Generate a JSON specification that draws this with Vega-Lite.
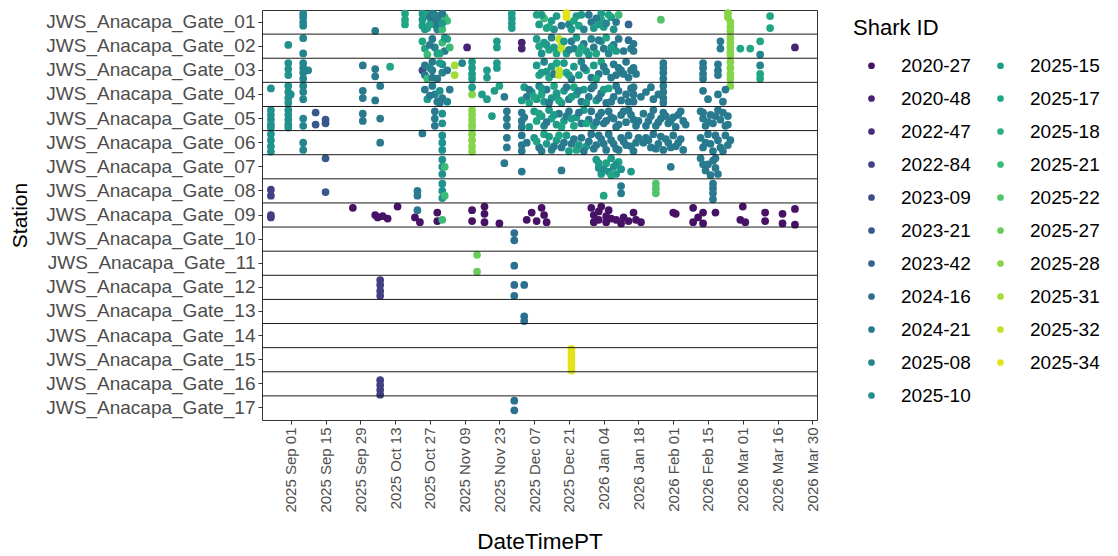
{
"$schema": "https://vega.github.io/schema/vega-lite/v6.json",
"width": 555, "height": 410,
"autosize": {"type": "none"},
"padding": {"left": 262, "top": 10, "right": 301, "bottom": 136},
"config": {"font": "Liberation Sans", "view": {"stroke": "#333333", "strokeWidth": 1}},
"layer": [
{"data": {"values": [
{"st":"JWS_Anacapa_Gate_01","dt":"2025-09-06","id":"2025-08","j":-0.35},
{"st":"JWS_Anacapa_Gate_01","dt":"2025-09-06","id":"2025-08","j":-0.2},
{"st":"JWS_Anacapa_Gate_01","dt":"2025-09-06","id":"2025-08","j":0},
{"st":"JWS_Anacapa_Gate_01","dt":"2025-09-06","id":"2025-08","j":0.15},
{"st":"JWS_Anacapa_Gate_01","dt":"2025-10-05","id":"2024-21","j":0.37},
{"st":"JWS_Anacapa_Gate_01","dt":"2025-10-17","id":"2025-17","j":-0.35},
{"st":"JWS_Anacapa_Gate_01","dt":"2025-10-17","id":"2025-17","j":-0.1},
{"st":"JWS_Anacapa_Gate_01","dt":"2025-10-17","id":"2025-17","j":0.1},
{"st":"JWS_Anacapa_Gate_01","dt":"2025-10-24","id":"2025-15","j":-0.35},
{"st":"JWS_Anacapa_Gate_01","dt":"2025-10-24","id":"2025-15","j":-0.1},
{"st":"JWS_Anacapa_Gate_01","dt":"2025-10-24","id":"2025-15","j":0.15},
{"st":"JWS_Anacapa_Gate_01","dt":"2025-10-26","id":"2025-17","j":-0.3},
{"st":"JWS_Anacapa_Gate_01","dt":"2025-10-26","id":"2025-17","j":0.25},
{"st":"JWS_Anacapa_Gate_01","dt":"2025-10-28","id":"2024-21","j":-0.35},
{"st":"JWS_Anacapa_Gate_01","dt":"2025-10-28","id":"2024-21","j":-0.1},
{"st":"JWS_Anacapa_Gate_01","dt":"2025-10-29","id":"2024-21","j":0.1},
{"st":"JWS_Anacapa_Gate_01","dt":"2025-10-30","id":"2025-08","j":0.3},
{"st":"JWS_Anacapa_Gate_01","dt":"2025-10-31","id":"2024-21","j":-0.25},
{"st":"JWS_Anacapa_Gate_01","dt":"2025-10-31","id":"2024-21","j":0.05},
{"st":"JWS_Anacapa_Gate_01","dt":"2025-11-01","id":"2025-21","j":0.3},
{"st":"JWS_Anacapa_Gate_01","dt":"2025-11-02","id":"2025-21","j":-0.2},
{"st":"JWS_Anacapa_Gate_01","dt":"2025-11-03","id":"2025-21","j":-0.05},
{"st":"JWS_Anacapa_Gate_01","dt":"2025-11-29","id":"2025-15","j":-0.35},
{"st":"JWS_Anacapa_Gate_01","dt":"2025-11-29","id":"2025-15","j":-0.15},
{"st":"JWS_Anacapa_Gate_01","dt":"2025-11-29","id":"2025-15","j":0.05},
{"st":"JWS_Anacapa_Gate_01","dt":"2025-11-29","id":"2025-15","j":0.25},
{"st":"JWS_Anacapa_Gate_01","dt":"2025-12-09","id":"2025-17","j":-0.3},
{"st":"JWS_Anacapa_Gate_01","dt":"2025-12-10","id":"2025-15","j":0.1},
{"st":"JWS_Anacapa_Gate_01","dt":"2025-12-12","id":"2025-21","j":-0.15},
{"st":"JWS_Anacapa_Gate_01","dt":"2025-12-13","id":"2025-17","j":0.25},
{"st":"JWS_Anacapa_Gate_01","dt":"2025-12-15","id":"2025-15","j":-0.05},
{"st":"JWS_Anacapa_Gate_01","dt":"2025-12-16","id":"2025-10","j":0.3},
{"st":"JWS_Anacapa_Gate_01","dt":"2025-12-21","id":"2025-34","j":-0.37},
{"st":"JWS_Anacapa_Gate_01","dt":"2025-12-21","id":"2025-34","j":-0.2},
{"st":"JWS_Anacapa_Gate_01","dt":"2025-12-22","id":"2025-08","j":0.1},
{"st":"JWS_Anacapa_Gate_01","dt":"2025-12-23","id":"2025-15","j":0.3},
{"st":"JWS_Anacapa_Gate_01","dt":"2025-12-25","id":"2025-15","j":-0.25},
{"st":"JWS_Anacapa_Gate_01","dt":"2025-12-26","id":"2025-17","j":0.15},
{"st":"JWS_Anacapa_Gate_01","dt":"2025-12-30","id":"2024-21","j":-0.3},
{"st":"JWS_Anacapa_Gate_01","dt":"2025-12-31","id":"2024-21","j":0},
{"st":"JWS_Anacapa_Gate_01","dt":"2026-01-01","id":"2025-15","j":0.25},
{"st":"JWS_Anacapa_Gate_01","dt":"2026-01-04","id":"2025-15","j":-0.35},
{"st":"JWS_Anacapa_Gate_01","dt":"2026-01-04","id":"2025-17","j":-0.1},
{"st":"JWS_Anacapa_Gate_01","dt":"2026-01-05","id":"2025-15","j":0.2},
{"st":"JWS_Anacapa_Gate_01","dt":"2026-01-06","id":"2025-08","j":0.05},
{"st":"JWS_Anacapa_Gate_01","dt":"2026-01-08","id":"2025-15","j":-0.2},
{"st":"JWS_Anacapa_Gate_01","dt":"2026-01-09","id":"2025-10","j":0.3},
{"st":"JWS_Anacapa_Gate_01","dt":"2026-01-11","id":"2025-21","j":-0.3},
{"st":"JWS_Anacapa_Gate_01","dt":"2026-01-15","id":"2023-42","j":0.1},
{"st":"JWS_Anacapa_Gate_01","dt":"2026-01-28","id":"2025-22","j":-0.1},
{"st":"JWS_Anacapa_Gate_01","dt":"2026-02-24","id":"2025-28","j":-0.37},
{"st":"JWS_Anacapa_Gate_01","dt":"2026-02-24","id":"2025-28","j":-0.2},
{"st":"JWS_Anacapa_Gate_01","dt":"2026-02-25","id":"2025-28","j":0},
{"st":"JWS_Anacapa_Gate_01","dt":"2026-02-25","id":"2025-28","j":0.2},
{"st":"JWS_Anacapa_Gate_01","dt":"2026-02-25","id":"2025-28","j":0.37},
{"st":"JWS_Anacapa_Gate_01","dt":"2026-03-13","id":"2025-17","j":-0.25},
{"st":"JWS_Anacapa_Gate_01","dt":"2026-03-13","id":"2025-17","j":0.25},
{"st":"JWS_Anacapa_Gate_01","dt":"2025-10-25","id":"2025-15","j":0.3},
{"st":"JWS_Anacapa_Gate_01","dt":"2025-10-27","id":"2024-21","j":-0.2},
{"st":"JWS_Anacapa_Gate_01","dt":"2025-10-27","id":"2025-17","j":0.1},
{"st":"JWS_Anacapa_Gate_01","dt":"2025-10-29","id":"2025-08","j":-0.3},
{"st":"JWS_Anacapa_Gate_01","dt":"2025-10-30","id":"2024-21","j":-0.05},
{"st":"JWS_Anacapa_Gate_01","dt":"2025-11-01","id":"2024-21","j":-0.35},
{"st":"JWS_Anacapa_Gate_01","dt":"2025-11-01","id":"2025-15","j":0.05},
{"st":"JWS_Anacapa_Gate_01","dt":"2025-12-11","id":"2025-15","j":-0.3},
{"st":"JWS_Anacapa_Gate_01","dt":"2025-12-14","id":"2025-17","j":0.2},
{"st":"JWS_Anacapa_Gate_01","dt":"2025-12-17","id":"2025-15","j":-0.25},
{"st":"JWS_Anacapa_Gate_01","dt":"2025-12-19","id":"2024-21","j":0.15},
{"st":"JWS_Anacapa_Gate_01","dt":"2025-12-24","id":"2025-17","j":-0.05},
{"st":"JWS_Anacapa_Gate_01","dt":"2025-12-27","id":"2025-15","j":-0.3},
{"st":"JWS_Anacapa_Gate_01","dt":"2025-12-28","id":"2025-08","j":0.3},
{"st":"JWS_Anacapa_Gate_01","dt":"2026-01-02","id":"2024-21","j":-0.15},
{"st":"JWS_Anacapa_Gate_01","dt":"2026-01-03","id":"2025-15","j":0.1},
{"st":"JWS_Anacapa_Gate_01","dt":"2026-01-07","id":"2025-17","j":-0.3},
{"st":"JWS_Anacapa_Gate_01","dt":"2026-01-10","id":"2024-21","j":0},

{"st":"JWS_Anacapa_Gate_02","dt":"2025-08-31","id":"2025-10","j":-0.05},
{"st":"JWS_Anacapa_Gate_02","dt":"2025-09-06","id":"2025-08","j":-0.33},
{"st":"JWS_Anacapa_Gate_02","dt":"2025-09-06","id":"2025-08","j":0.3},
{"st":"JWS_Anacapa_Gate_02","dt":"2025-10-24","id":"2025-17","j":-0.2},
{"st":"JWS_Anacapa_Gate_02","dt":"2025-10-25","id":"2025-17","j":0.1},
{"st":"JWS_Anacapa_Gate_02","dt":"2025-10-26","id":"2025-21","j":0.35},
{"st":"JWS_Anacapa_Gate_02","dt":"2025-10-28","id":"2024-21","j":-0.3},
{"st":"JWS_Anacapa_Gate_02","dt":"2025-10-29","id":"2025-08","j":0.05},
{"st":"JWS_Anacapa_Gate_02","dt":"2025-10-30","id":"2025-15","j":0.3},
{"st":"JWS_Anacapa_Gate_02","dt":"2025-11-01","id":"2025-21","j":-0.15},
{"st":"JWS_Anacapa_Gate_02","dt":"2025-11-02","id":"2024-21","j":0.2},
{"st":"JWS_Anacapa_Gate_02","dt":"2025-11-03","id":"2025-17","j":-0.3},
{"st":"JWS_Anacapa_Gate_02","dt":"2025-11-04","id":"2025-21","j":0.05},
{"st":"JWS_Anacapa_Gate_02","dt":"2025-11-11","id":"2020-48","j":0.05},
{"st":"JWS_Anacapa_Gate_02","dt":"2025-11-23","id":"2025-15","j":-0.2},
{"st":"JWS_Anacapa_Gate_02","dt":"2025-11-23","id":"2025-15","j":0.05},
{"st":"JWS_Anacapa_Gate_02","dt":"2025-12-03","id":"2020-48","j":-0.15},
{"st":"JWS_Anacapa_Gate_02","dt":"2025-12-03","id":"2020-48","j":0.1},
{"st":"JWS_Anacapa_Gate_02","dt":"2025-12-09","id":"2025-15","j":-0.3},
{"st":"JWS_Anacapa_Gate_02","dt":"2025-12-10","id":"2025-17","j":0},
{"st":"JWS_Anacapa_Gate_02","dt":"2025-12-11","id":"2025-10","j":0.3},
{"st":"JWS_Anacapa_Gate_02","dt":"2025-12-12","id":"2025-15","j":-0.15},
{"st":"JWS_Anacapa_Gate_02","dt":"2025-12-14","id":"2025-17","j":0.15},
{"st":"JWS_Anacapa_Gate_02","dt":"2025-12-15","id":"2025-08","j":-0.35},
{"st":"JWS_Anacapa_Gate_02","dt":"2025-12-16","id":"2025-15","j":0.05},
{"st":"JWS_Anacapa_Gate_02","dt":"2025-12-17","id":"2025-17","j":0.3},
{"st":"JWS_Anacapa_Gate_02","dt":"2025-12-18","id":"2025-32","j":-0.3},
{"st":"JWS_Anacapa_Gate_02","dt":"2025-12-19","id":"2025-32","j":-0.1},
{"st":"JWS_Anacapa_Gate_02","dt":"2025-12-19","id":"2025-32","j":0.1},
{"st":"JWS_Anacapa_Gate_02","dt":"2025-12-21","id":"2025-15","j":0.3},
{"st":"JWS_Anacapa_Gate_02","dt":"2025-12-23","id":"2024-21","j":-0.2},
{"st":"JWS_Anacapa_Gate_02","dt":"2025-12-24","id":"2025-08","j":0.1},
{"st":"JWS_Anacapa_Gate_02","dt":"2025-12-25","id":"2025-15","j":-0.35},
{"st":"JWS_Anacapa_Gate_02","dt":"2025-12-26","id":"2025-17","j":0.3},
{"st":"JWS_Anacapa_Gate_02","dt":"2025-12-28","id":"2024-21","j":-0.1},
{"st":"JWS_Anacapa_Gate_02","dt":"2025-12-29","id":"2025-15","j":0.2},
{"st":"JWS_Anacapa_Gate_02","dt":"2025-12-31","id":"2025-08","j":-0.3},
{"st":"JWS_Anacapa_Gate_02","dt":"2026-01-01","id":"2024-21","j":0.05},
{"st":"JWS_Anacapa_Gate_02","dt":"2026-01-02","id":"2025-17","j":0.3},
{"st":"JWS_Anacapa_Gate_02","dt":"2026-01-04","id":"2025-15","j":-0.2},
{"st":"JWS_Anacapa_Gate_02","dt":"2026-01-05","id":"2024-21","j":0.1},
{"st":"JWS_Anacapa_Gate_02","dt":"2026-01-06","id":"2025-17","j":-0.35},
{"st":"JWS_Anacapa_Gate_02","dt":"2026-01-07","id":"2025-08","j":0.3},
{"st":"JWS_Anacapa_Gate_02","dt":"2026-01-09","id":"2024-21","j":-0.05},
{"st":"JWS_Anacapa_Gate_02","dt":"2026-01-10","id":"2025-15","j":0.2},
{"st":"JWS_Anacapa_Gate_02","dt":"2026-01-15","id":"2024-16","j":-0.25},
{"st":"JWS_Anacapa_Gate_02","dt":"2026-01-16","id":"2024-21","j":0.1},
{"st":"JWS_Anacapa_Gate_02","dt":"2026-01-17","id":"2024-21","j":-0.1},
{"st":"JWS_Anacapa_Gate_02","dt":"2026-01-17","id":"2024-21","j":0.2},
{"st":"JWS_Anacapa_Gate_02","dt":"2026-02-21","id":"2024-21","j":-0.2},
{"st":"JWS_Anacapa_Gate_02","dt":"2026-02-21","id":"2024-21","j":0.1},
{"st":"JWS_Anacapa_Gate_02","dt":"2026-02-25","id":"2025-28","j":-0.35},
{"st":"JWS_Anacapa_Gate_02","dt":"2026-02-25","id":"2025-28","j":-0.15},
{"st":"JWS_Anacapa_Gate_02","dt":"2026-02-25","id":"2025-28","j":0.05},
{"st":"JWS_Anacapa_Gate_02","dt":"2026-02-25","id":"2025-28","j":0.25},
{"st":"JWS_Anacapa_Gate_02","dt":"2026-02-25","id":"2025-28","j":0.37},
{"st":"JWS_Anacapa_Gate_02","dt":"2026-03-01","id":"2025-17","j":0.1},
{"st":"JWS_Anacapa_Gate_02","dt":"2026-03-05","id":"2025-17","j":0.1},
{"st":"JWS_Anacapa_Gate_02","dt":"2026-03-09","id":"2025-17","j":-0.2},
{"st":"JWS_Anacapa_Gate_02","dt":"2026-03-09","id":"2025-08","j":0.35},
{"st":"JWS_Anacapa_Gate_02","dt":"2026-03-23","id":"2020-48","j":0.05},
{"st":"JWS_Anacapa_Gate_02","dt":"2025-10-27","id":"2024-21","j":-0.05},
{"st":"JWS_Anacapa_Gate_02","dt":"2025-10-31","id":"2025-17","j":0.3},
{"st":"JWS_Anacapa_Gate_02","dt":"2025-11-02","id":"2025-15","j":-0.35},
{"st":"JWS_Anacapa_Gate_02","dt":"2025-12-13","id":"2025-15","j":-0.05},
{"st":"JWS_Anacapa_Gate_02","dt":"2025-12-20","id":"2025-15","j":-0.2},
{"st":"JWS_Anacapa_Gate_02","dt":"2025-12-22","id":"2025-08","j":0.15},
{"st":"JWS_Anacapa_Gate_02","dt":"2025-12-27","id":"2025-17","j":0.05},
{"st":"JWS_Anacapa_Gate_02","dt":"2025-12-30","id":"2025-15","j":0.35},
{"st":"JWS_Anacapa_Gate_02","dt":"2026-01-03","id":"2024-21","j":-0.25},
{"st":"JWS_Anacapa_Gate_02","dt":"2026-01-08","id":"2025-15","j":0.05},
{"st":"JWS_Anacapa_Gate_02","dt":"2026-01-11","id":"2024-21","j":-0.3},
{"st":"JWS_Anacapa_Gate_02","dt":"2026-01-13","id":"2024-21","j":0.2},

{"st":"JWS_Anacapa_Gate_03","dt":"2025-08-31","id":"2025-10","j":-0.3},
{"st":"JWS_Anacapa_Gate_03","dt":"2025-08-31","id":"2025-10","j":-0.05},
{"st":"JWS_Anacapa_Gate_03","dt":"2025-08-31","id":"2025-10","j":0.2},
{"st":"JWS_Anacapa_Gate_03","dt":"2025-09-06","id":"2025-08","j":-0.3},
{"st":"JWS_Anacapa_Gate_03","dt":"2025-09-06","id":"2025-08","j":-0.1},
{"st":"JWS_Anacapa_Gate_03","dt":"2025-09-06","id":"2025-08","j":0.1},
{"st":"JWS_Anacapa_Gate_03","dt":"2025-09-06","id":"2025-08","j":0.35},
{"st":"JWS_Anacapa_Gate_03","dt":"2025-09-08","id":"2025-08","j":0},
{"st":"JWS_Anacapa_Gate_03","dt":"2025-09-30","id":"2024-21","j":-0.2},
{"st":"JWS_Anacapa_Gate_03","dt":"2025-10-05","id":"2024-21","j":-0.05},
{"st":"JWS_Anacapa_Gate_03","dt":"2025-10-05","id":"2024-21","j":0.25},
{"st":"JWS_Anacapa_Gate_03","dt":"2025-10-11","id":"2025-17","j":-0.15},
{"st":"JWS_Anacapa_Gate_03","dt":"2025-10-24","id":"2023-09","j":0},
{"st":"JWS_Anacapa_Gate_03","dt":"2025-10-25","id":"2024-21","j":-0.2},
{"st":"JWS_Anacapa_Gate_03","dt":"2025-10-25","id":"2024-21","j":0.2},
{"st":"JWS_Anacapa_Gate_03","dt":"2025-10-26","id":"2025-21","j":0.35},
{"st":"JWS_Anacapa_Gate_03","dt":"2025-10-28","id":"2024-21","j":-0.35},
{"st":"JWS_Anacapa_Gate_03","dt":"2025-10-28","id":"2024-21","j":0},
{"st":"JWS_Anacapa_Gate_03","dt":"2025-10-28","id":"2024-21","j":0.3},
{"st":"JWS_Anacapa_Gate_03","dt":"2025-11-01","id":"2025-08","j":-0.25},
{"st":"JWS_Anacapa_Gate_03","dt":"2025-11-01","id":"2025-08","j":0.1},
{"st":"JWS_Anacapa_Gate_03","dt":"2025-11-03","id":"2024-21","j":0},
{"st":"JWS_Anacapa_Gate_03","dt":"2025-11-06","id":"2025-31","j":-0.2},
{"st":"JWS_Anacapa_Gate_03","dt":"2025-11-06","id":"2025-31","j":0.2},
{"st":"JWS_Anacapa_Gate_03","dt":"2025-11-09","id":"2025-08","j":-0.3},
{"st":"JWS_Anacapa_Gate_03","dt":"2025-11-13","id":"2025-15","j":-0.35},
{"st":"JWS_Anacapa_Gate_03","dt":"2025-11-13","id":"2025-15","j":-0.1},
{"st":"JWS_Anacapa_Gate_03","dt":"2025-11-13","id":"2025-15","j":0.15},
{"st":"JWS_Anacapa_Gate_03","dt":"2025-11-13","id":"2025-15","j":0.35},
{"st":"JWS_Anacapa_Gate_03","dt":"2025-11-19","id":"2025-15","j":0},
{"st":"JWS_Anacapa_Gate_03","dt":"2025-11-19","id":"2025-15","j":0.3},
{"st":"JWS_Anacapa_Gate_03","dt":"2025-11-23","id":"2025-15","j":-0.3},
{"st":"JWS_Anacapa_Gate_03","dt":"2025-11-23","id":"2025-15","j":-0.1},
{"st":"JWS_Anacapa_Gate_03","dt":"2025-12-09","id":"2025-15","j":-0.2},
{"st":"JWS_Anacapa_Gate_03","dt":"2025-12-10","id":"2025-17","j":0.2},
{"st":"JWS_Anacapa_Gate_03","dt":"2025-12-12","id":"2025-08","j":-0.35},
{"st":"JWS_Anacapa_Gate_03","dt":"2025-12-13","id":"2025-15","j":0.05},
{"st":"JWS_Anacapa_Gate_03","dt":"2025-12-14","id":"2025-17","j":0.3},
{"st":"JWS_Anacapa_Gate_03","dt":"2025-12-15","id":"2025-15","j":-0.15},
{"st":"JWS_Anacapa_Gate_03","dt":"2025-12-16","id":"2024-21","j":0.15},
{"st":"JWS_Anacapa_Gate_03","dt":"2025-12-18","id":"2025-32","j":0},
{"st":"JWS_Anacapa_Gate_03","dt":"2025-12-18","id":"2025-32","j":0.2},
{"st":"JWS_Anacapa_Gate_03","dt":"2025-12-20","id":"2025-15","j":-0.3},
{"st":"JWS_Anacapa_Gate_03","dt":"2025-12-21","id":"2025-17","j":0.1},
{"st":"JWS_Anacapa_Gate_03","dt":"2025-12-23","id":"2024-21","j":0.35},
{"st":"JWS_Anacapa_Gate_03","dt":"2025-12-24","id":"2025-15","j":-0.15},
{"st":"JWS_Anacapa_Gate_03","dt":"2025-12-26","id":"2025-15","j":0.2},
{"st":"JWS_Anacapa_Gate_03","dt":"2025-12-27","id":"2025-08","j":-0.35},
{"st":"JWS_Anacapa_Gate_03","dt":"2025-12-29","id":"2025-17","j":0},
{"st":"JWS_Anacapa_Gate_03","dt":"2025-12-31","id":"2024-21","j":0.3},
{"st":"JWS_Anacapa_Gate_03","dt":"2026-01-01","id":"2025-15","j":-0.2},
{"st":"JWS_Anacapa_Gate_03","dt":"2026-01-03","id":"2024-21","j":0.15},
{"st":"JWS_Anacapa_Gate_03","dt":"2026-01-04","id":"2025-17","j":-0.35},
{"st":"JWS_Anacapa_Gate_03","dt":"2026-01-06","id":"2025-08","j":0.05},
{"st":"JWS_Anacapa_Gate_03","dt":"2026-01-09","id":"2024-21","j":-0.25},
{"st":"JWS_Anacapa_Gate_03","dt":"2026-01-10","id":"2024-21","j":0.2},
{"st":"JWS_Anacapa_Gate_03","dt":"2026-01-12","id":"2024-21","j":0},
{"st":"JWS_Anacapa_Gate_03","dt":"2026-01-14","id":"2024-21","j":-0.35},
{"st":"JWS_Anacapa_Gate_03","dt":"2026-01-15","id":"2024-21","j":0.3},
{"st":"JWS_Anacapa_Gate_03","dt":"2026-01-17","id":"2024-21","j":-0.1},
{"st":"JWS_Anacapa_Gate_03","dt":"2026-01-18","id":"2024-21","j":0.15},
{"st":"JWS_Anacapa_Gate_03","dt":"2026-01-29","id":"2024-21","j":-0.3},
{"st":"JWS_Anacapa_Gate_03","dt":"2026-01-29","id":"2024-21","j":-0.1},
{"st":"JWS_Anacapa_Gate_03","dt":"2026-01-29","id":"2024-21","j":0.1},
{"st":"JWS_Anacapa_Gate_03","dt":"2026-01-29","id":"2024-21","j":0.35},
{"st":"JWS_Anacapa_Gate_03","dt":"2026-02-14","id":"2024-21","j":-0.3},
{"st":"JWS_Anacapa_Gate_03","dt":"2026-02-14","id":"2024-21","j":-0.1},
{"st":"JWS_Anacapa_Gate_03","dt":"2026-02-14","id":"2024-21","j":0.15},
{"st":"JWS_Anacapa_Gate_03","dt":"2026-02-14","id":"2024-21","j":0.35},
{"st":"JWS_Anacapa_Gate_03","dt":"2026-02-20","id":"2024-21","j":-0.25},
{"st":"JWS_Anacapa_Gate_03","dt":"2026-02-20","id":"2024-21","j":0},
{"st":"JWS_Anacapa_Gate_03","dt":"2026-02-20","id":"2024-21","j":0.2},
{"st":"JWS_Anacapa_Gate_03","dt":"2026-02-25","id":"2025-28","j":-0.35},
{"st":"JWS_Anacapa_Gate_03","dt":"2026-02-25","id":"2025-28","j":-0.1},
{"st":"JWS_Anacapa_Gate_03","dt":"2026-02-25","id":"2025-28","j":0.15},
{"st":"JWS_Anacapa_Gate_03","dt":"2026-02-25","id":"2025-28","j":0.35},
{"st":"JWS_Anacapa_Gate_03","dt":"2026-03-09","id":"2025-08","j":-0.2},
{"st":"JWS_Anacapa_Gate_03","dt":"2026-03-09","id":"2025-17","j":0.15},
{"st":"JWS_Anacapa_Gate_03","dt":"2026-03-09","id":"2025-17","j":0.35},
{"st":"JWS_Anacapa_Gate_03","dt":"2025-10-27","id":"2025-08","j":-0.1},
{"st":"JWS_Anacapa_Gate_03","dt":"2025-10-30","id":"2024-21","j":0.35},
{"st":"JWS_Anacapa_Gate_03","dt":"2025-10-31","id":"2025-15","j":-0.3},
{"st":"JWS_Anacapa_Gate_03","dt":"2025-12-11","id":"2025-15","j":0.1},
{"st":"JWS_Anacapa_Gate_03","dt":"2025-12-17","id":"2025-17","j":-0.3},
{"st":"JWS_Anacapa_Gate_03","dt":"2025-12-22","id":"2025-15","j":0.2},
{"st":"JWS_Anacapa_Gate_03","dt":"2025-12-28","id":"2024-21","j":-0.1},
{"st":"JWS_Anacapa_Gate_03","dt":"2026-01-02","id":"2025-17","j":0.35},
{"st":"JWS_Anacapa_Gate_03","dt":"2026-01-05","id":"2024-21","j":-0.15},
{"st":"JWS_Anacapa_Gate_03","dt":"2026-01-08","id":"2024-21","j":0.3},
{"st":"JWS_Anacapa_Gate_03","dt":"2026-01-11","id":"2024-21","j":-0.1},
{"st":"JWS_Anacapa_Gate_03","dt":"2026-01-13","id":"2024-21","j":0.15},
{"st":"JWS_Anacapa_Gate_03","dt":"2026-01-16","id":"2024-21","j":0},

{"st":"JWS_Anacapa_Gate_04","dt":"2025-08-24","id":"2025-10","j":-0.25},
{"st":"JWS_Anacapa_Gate_04","dt":"2025-08-31","id":"2025-10","j":-0.35},
{"st":"JWS_Anacapa_Gate_04","dt":"2025-08-31","id":"2025-10","j":-0.1},
{"st":"JWS_Anacapa_Gate_04","dt":"2025-08-31","id":"2025-10","j":0.15},
{"st":"JWS_Anacapa_Gate_04","dt":"2025-08-31","id":"2025-10","j":0.35},
{"st":"JWS_Anacapa_Gate_04","dt":"2025-09-01","id":"2025-10","j":0},
{"st":"JWS_Anacapa_Gate_04","dt":"2025-09-06","id":"2025-08","j":-0.35},
{"st":"JWS_Anacapa_Gate_04","dt":"2025-09-06","id":"2025-08","j":-0.1},
{"st":"JWS_Anacapa_Gate_04","dt":"2025-09-06","id":"2025-08","j":0.2},
{"st":"JWS_Anacapa_Gate_04","dt":"2025-09-30","id":"2024-21","j":-0.15},
{"st":"JWS_Anacapa_Gate_04","dt":"2025-09-30","id":"2024-21","j":0.15},
{"st":"JWS_Anacapa_Gate_04","dt":"2025-10-05","id":"2024-21","j":0.25},
{"st":"JWS_Anacapa_Gate_04","dt":"2025-10-07","id":"2024-21","j":-0.35},
{"st":"JWS_Anacapa_Gate_04","dt":"2025-10-25","id":"2024-21","j":-0.2},
{"st":"JWS_Anacapa_Gate_04","dt":"2025-10-26","id":"2025-15","j":0.2},
{"st":"JWS_Anacapa_Gate_04","dt":"2025-10-28","id":"2024-21","j":-0.35},
{"st":"JWS_Anacapa_Gate_04","dt":"2025-10-29","id":"2025-08","j":0},
{"st":"JWS_Anacapa_Gate_04","dt":"2025-10-30","id":"2024-21","j":0.3},
{"st":"JWS_Anacapa_Gate_04","dt":"2025-10-31","id":"2025-10","j":-0.15},
{"st":"JWS_Anacapa_Gate_04","dt":"2025-11-01","id":"2024-21","j":0.15},
{"st":"JWS_Anacapa_Gate_04","dt":"2025-11-03","id":"2025-08","j":0.3},
{"st":"JWS_Anacapa_Gate_04","dt":"2025-11-04","id":"2024-21","j":-0.2},
{"st":"JWS_Anacapa_Gate_04","dt":"2025-11-13","id":"2025-28","j":0},
{"st":"JWS_Anacapa_Gate_04","dt":"2025-11-13","id":"2025-15","j":-0.3},
{"st":"JWS_Anacapa_Gate_04","dt":"2025-11-19","id":"2025-15","j":0.2},
{"st":"JWS_Anacapa_Gate_04","dt":"2025-11-22","id":"2025-15","j":-0.15},
{"st":"JWS_Anacapa_Gate_04","dt":"2025-11-24","id":"2025-17","j":-0.35},
{"st":"JWS_Anacapa_Gate_04","dt":"2025-11-26","id":"2024-21","j":0.1},
{"st":"JWS_Anacapa_Gate_04","dt":"2025-12-04","id":"2025-15","j":-0.3},
{"st":"JWS_Anacapa_Gate_04","dt":"2025-12-05","id":"2024-21","j":0.1},
{"st":"JWS_Anacapa_Gate_04","dt":"2025-12-06","id":"2025-17","j":0.35},
{"st":"JWS_Anacapa_Gate_04","dt":"2025-12-07","id":"2025-15","j":-0.1},
{"st":"JWS_Anacapa_Gate_04","dt":"2025-12-09","id":"2025-15","j":0.2},
{"st":"JWS_Anacapa_Gate_04","dt":"2025-12-10","id":"2025-08","j":-0.35},
{"st":"JWS_Anacapa_Gate_04","dt":"2025-12-11","id":"2025-17","j":0},
{"st":"JWS_Anacapa_Gate_04","dt":"2025-12-12","id":"2025-15","j":0.3},
{"st":"JWS_Anacapa_Gate_04","dt":"2025-12-13","id":"2024-21","j":-0.2},
{"st":"JWS_Anacapa_Gate_04","dt":"2025-12-15","id":"2025-15","j":0.15},
{"st":"JWS_Anacapa_Gate_04","dt":"2025-12-16","id":"2025-17","j":-0.35},
{"st":"JWS_Anacapa_Gate_04","dt":"2025-12-17","id":"2025-10","j":0.05},
{"st":"JWS_Anacapa_Gate_04","dt":"2025-12-19","id":"2025-15","j":0.35},
{"st":"JWS_Anacapa_Gate_04","dt":"2025-12-20","id":"2025-15","j":-0.15},
{"st":"JWS_Anacapa_Gate_04","dt":"2025-12-22","id":"2024-21","j":0.2},
{"st":"JWS_Anacapa_Gate_04","dt":"2025-12-24","id":"2025-17","j":-0.3},
{"st":"JWS_Anacapa_Gate_04","dt":"2025-12-25","id":"2025-15","j":0},
{"st":"JWS_Anacapa_Gate_04","dt":"2025-12-27","id":"2024-21","j":0.3},
{"st":"JWS_Anacapa_Gate_04","dt":"2025-12-28","id":"2025-15","j":-0.2},
{"st":"JWS_Anacapa_Gate_04","dt":"2025-12-30","id":"2024-21","j":0.1},
{"st":"JWS_Anacapa_Gate_04","dt":"2026-01-01","id":"2025-08","j":-0.35},
{"st":"JWS_Anacapa_Gate_04","dt":"2026-01-02","id":"2025-15","j":0.25},
{"st":"JWS_Anacapa_Gate_04","dt":"2026-01-04","id":"2024-21","j":-0.05},
{"st":"JWS_Anacapa_Gate_04","dt":"2026-01-06","id":"2024-21","j":0.35},
{"st":"JWS_Anacapa_Gate_04","dt":"2026-01-07","id":"2025-17","j":-0.25},
{"st":"JWS_Anacapa_Gate_04","dt":"2026-01-09","id":"2024-21","j":0.1},
{"st":"JWS_Anacapa_Gate_04","dt":"2026-01-10","id":"2024-21","j":-0.35},
{"st":"JWS_Anacapa_Gate_04","dt":"2026-01-12","id":"2024-21","j":0.25},
{"st":"JWS_Anacapa_Gate_04","dt":"2026-01-17","id":"2024-21","j":-0.3},
{"st":"JWS_Anacapa_Gate_04","dt":"2026-01-17","id":"2024-21","j":0},
{"st":"JWS_Anacapa_Gate_04","dt":"2026-01-17","id":"2024-21","j":0.3},
{"st":"JWS_Anacapa_Gate_04","dt":"2026-01-22","id":"2024-21","j":-0.1},
{"st":"JWS_Anacapa_Gate_04","dt":"2026-01-25","id":"2024-21","j":0.2},
{"st":"JWS_Anacapa_Gate_04","dt":"2026-01-29","id":"2024-21","j":-0.35},
{"st":"JWS_Anacapa_Gate_04","dt":"2026-01-29","id":"2024-21","j":-0.1},
{"st":"JWS_Anacapa_Gate_04","dt":"2026-01-29","id":"2024-21","j":0.15},
{"st":"JWS_Anacapa_Gate_04","dt":"2026-01-29","id":"2024-21","j":0.35},
{"st":"JWS_Anacapa_Gate_04","dt":"2026-02-14","id":"2024-21","j":-0.15},
{"st":"JWS_Anacapa_Gate_04","dt":"2026-02-20","id":"2024-21","j":0},
{"st":"JWS_Anacapa_Gate_04","dt":"2026-02-22","id":"2024-21","j":0.3},
{"st":"JWS_Anacapa_Gate_04","dt":"2026-02-25","id":"2025-28","j":-0.35},
{"st":"JWS_Anacapa_Gate_04","dt":"2025-10-27","id":"2024-21","j":0.05},
{"st":"JWS_Anacapa_Gate_04","dt":"2025-10-31","id":"2024-21","j":0.35},
{"st":"JWS_Anacapa_Gate_04","dt":"2025-11-17","id":"2025-15","j":0},
{"st":"JWS_Anacapa_Gate_04","dt":"2025-12-03","id":"2025-15","j":0.25},
{"st":"JWS_Anacapa_Gate_04","dt":"2025-12-06","id":"2024-21","j":-0.2},
{"st":"JWS_Anacapa_Gate_04","dt":"2025-12-08","id":"2025-17","j":0.1},
{"st":"JWS_Anacapa_Gate_04","dt":"2025-12-11","id":"2025-15","j":-0.25},
{"st":"JWS_Anacapa_Gate_04","dt":"2025-12-14","id":"2024-21","j":0.35},
{"st":"JWS_Anacapa_Gate_04","dt":"2025-12-17","id":"2025-15","j":-0.05},
{"st":"JWS_Anacapa_Gate_04","dt":"2025-12-18","id":"2025-17","j":0.25},
{"st":"JWS_Anacapa_Gate_04","dt":"2025-12-21","id":"2024-21","j":-0.3},
{"st":"JWS_Anacapa_Gate_04","dt":"2025-12-23","id":"2025-15","j":0.1},
{"st":"JWS_Anacapa_Gate_04","dt":"2025-12-26","id":"2025-08","j":-0.15},
{"st":"JWS_Anacapa_Gate_04","dt":"2025-12-29","id":"2025-15","j":0.35},
{"st":"JWS_Anacapa_Gate_04","dt":"2025-12-31","id":"2024-21","j":-0.25},
{"st":"JWS_Anacapa_Gate_04","dt":"2026-01-03","id":"2024-21","j":0.15},
{"st":"JWS_Anacapa_Gate_04","dt":"2026-01-05","id":"2025-15","j":-0.2},
{"st":"JWS_Anacapa_Gate_04","dt":"2026-01-08","id":"2024-21","j":0.3},
{"st":"JWS_Anacapa_Gate_04","dt":"2026-01-11","id":"2024-21","j":-0.15},
{"st":"JWS_Anacapa_Gate_04","dt":"2026-01-14","id":"2024-21","j":0},
{"st":"JWS_Anacapa_Gate_04","dt":"2026-01-15","id":"2024-21","j":0.3},
{"st":"JWS_Anacapa_Gate_04","dt":"2026-01-16","id":"2024-21","j":-0.25},
{"st":"JWS_Anacapa_Gate_04","dt":"2026-01-20","id":"2024-21","j":0.1},
{"st":"JWS_Anacapa_Gate_04","dt":"2026-01-24","id":"2024-21","j":-0.3},
{"st":"JWS_Anacapa_Gate_04","dt":"2026-01-27","id":"2024-21","j":0},
{"st":"JWS_Anacapa_Gate_04","dt":"2026-02-16","id":"2024-21","j":0.2},
{"st":"JWS_Anacapa_Gate_04","dt":"2026-02-23","id":"2024-21","j":-0.2},

{"st":"JWS_Anacapa_Gate_05","dt":"2025-08-24","id":"2025-10","j":-0.35},
{"st":"JWS_Anacapa_Gate_05","dt":"2025-08-24","id":"2025-10","j":-0.15},
{"st":"JWS_Anacapa_Gate_05","dt":"2025-08-24","id":"2025-10","j":0.05},
{"st":"JWS_Anacapa_Gate_05","dt":"2025-08-24","id":"2025-10","j":0.25},
{"st":"JWS_Anacapa_Gate_05","dt":"2025-08-24","id":"2025-10","j":0.37},
{"st":"JWS_Anacapa_Gate_05","dt":"2025-08-31","id":"2025-10","j":-0.35},
{"st":"JWS_Anacapa_Gate_05","dt":"2025-08-31","id":"2025-10","j":-0.15},
{"st":"JWS_Anacapa_Gate_05","dt":"2025-08-31","id":"2025-10","j":0.05},
{"st":"JWS_Anacapa_Gate_05","dt":"2025-08-31","id":"2025-10","j":0.25},
{"st":"JWS_Anacapa_Gate_05","dt":"2025-08-31","id":"2025-10","j":0.37},
{"st":"JWS_Anacapa_Gate_05","dt":"2025-09-06","id":"2025-08","j":0},
{"st":"JWS_Anacapa_Gate_05","dt":"2025-09-06","id":"2025-08","j":0.3},
{"st":"JWS_Anacapa_Gate_05","dt":"2025-09-11","id":"2023-21","j":-0.25},
{"st":"JWS_Anacapa_Gate_05","dt":"2025-09-11","id":"2023-21","j":0.25},
{"st":"JWS_Anacapa_Gate_05","dt":"2025-09-15","id":"2023-21","j":0.05},
{"st":"JWS_Anacapa_Gate_05","dt":"2025-09-15","id":"2023-21","j":0.2},
{"st":"JWS_Anacapa_Gate_05","dt":"2025-09-30","id":"2024-21","j":-0.2},
{"st":"JWS_Anacapa_Gate_05","dt":"2025-09-30","id":"2024-21","j":0.1},
{"st":"JWS_Anacapa_Gate_05","dt":"2025-10-07","id":"2024-21","j":0},
{"st":"JWS_Anacapa_Gate_05","dt":"2025-10-29","id":"2024-21","j":-0.3},
{"st":"JWS_Anacapa_Gate_05","dt":"2025-10-29","id":"2024-21","j":0},
{"st":"JWS_Anacapa_Gate_05","dt":"2025-10-29","id":"2024-21","j":0.3},
{"st":"JWS_Anacapa_Gate_05","dt":"2025-11-01","id":"2025-10","j":-0.2},
{"st":"JWS_Anacapa_Gate_05","dt":"2025-11-01","id":"2025-10","j":0.2},
{"st":"JWS_Anacapa_Gate_05","dt":"2025-11-13","id":"2025-28","j":-0.35},
{"st":"JWS_Anacapa_Gate_05","dt":"2025-11-13","id":"2025-28","j":-0.15},
{"st":"JWS_Anacapa_Gate_05","dt":"2025-11-13","id":"2025-28","j":0.05},
{"st":"JWS_Anacapa_Gate_05","dt":"2025-11-13","id":"2025-28","j":0.25},
{"st":"JWS_Anacapa_Gate_05","dt":"2025-11-13","id":"2025-28","j":0.37},
{"st":"JWS_Anacapa_Gate_05","dt":"2025-11-21","id":"2025-15","j":-0.1},
{"st":"JWS_Anacapa_Gate_05","dt":"2025-11-27","id":"2024-21","j":-0.3},
{"st":"JWS_Anacapa_Gate_05","dt":"2025-11-27","id":"2024-21","j":0},
{"st":"JWS_Anacapa_Gate_05","dt":"2025-11-27","id":"2024-21","j":0.3},
{"st":"JWS_Anacapa_Gate_05","dt":"2025-12-03","id":"2024-21","j":-0.25},
{"st":"JWS_Anacapa_Gate_05","dt":"2025-12-03","id":"2024-21","j":0.1},
{"st":"JWS_Anacapa_Gate_05","dt":"2025-12-03","id":"2024-21","j":0.35},
{"st":"JWS_Anacapa_Gate_05","dt":"2025-12-08","id":"2025-15","j":-0.3},
{"st":"JWS_Anacapa_Gate_05","dt":"2025-12-09","id":"2025-17","j":0.1},
{"st":"JWS_Anacapa_Gate_05","dt":"2025-12-11","id":"2025-15","j":-0.1},
{"st":"JWS_Anacapa_Gate_05","dt":"2025-12-12","id":"2025-08","j":0.3},
{"st":"JWS_Anacapa_Gate_05","dt":"2025-12-14","id":"2025-15","j":-0.35},
{"st":"JWS_Anacapa_Gate_05","dt":"2025-12-15","id":"2025-17","j":0},
{"st":"JWS_Anacapa_Gate_05","dt":"2025-12-17","id":"2025-15","j":0.25},
{"st":"JWS_Anacapa_Gate_05","dt":"2025-12-18","id":"2024-21","j":-0.2},
{"st":"JWS_Anacapa_Gate_05","dt":"2025-12-20","id":"2025-15","j":0.1},
{"st":"JWS_Anacapa_Gate_05","dt":"2025-12-22","id":"2024-21","j":-0.3},
{"st":"JWS_Anacapa_Gate_05","dt":"2025-12-24","id":"2025-17","j":0.3},
{"st":"JWS_Anacapa_Gate_05","dt":"2025-12-25","id":"2025-15","j":-0.05},
{"st":"JWS_Anacapa_Gate_05","dt":"2025-12-27","id":"2024-21","j":0.2},
{"st":"JWS_Anacapa_Gate_05","dt":"2025-12-28","id":"2025-15","j":-0.35},
{"st":"JWS_Anacapa_Gate_05","dt":"2025-12-30","id":"2024-21","j":0.05},
{"st":"JWS_Anacapa_Gate_05","dt":"2026-01-01","id":"2025-15","j":0.3},
{"st":"JWS_Anacapa_Gate_05","dt":"2026-01-03","id":"2024-21","j":-0.1},
{"st":"JWS_Anacapa_Gate_05","dt":"2026-01-05","id":"2024-21","j":0.2},
{"st":"JWS_Anacapa_Gate_05","dt":"2026-01-07","id":"2024-21","j":-0.3},
{"st":"JWS_Anacapa_Gate_05","dt":"2026-01-09","id":"2024-21","j":0},
{"st":"JWS_Anacapa_Gate_05","dt":"2026-01-10","id":"2024-21","j":0.35},
{"st":"JWS_Anacapa_Gate_05","dt":"2026-01-12","id":"2024-21","j":-0.15},
{"st":"JWS_Anacapa_Gate_05","dt":"2026-01-14","id":"2024-21","j":0.15},
{"st":"JWS_Anacapa_Gate_05","dt":"2026-01-15","id":"2024-21","j":-0.35},
{"st":"JWS_Anacapa_Gate_05","dt":"2026-01-17","id":"2024-21","j":0.05},
{"st":"JWS_Anacapa_Gate_05","dt":"2026-01-18","id":"2024-21","j":0.3},
{"st":"JWS_Anacapa_Gate_05","dt":"2026-01-21","id":"2024-21","j":-0.2},
{"st":"JWS_Anacapa_Gate_05","dt":"2026-01-23","id":"2024-21","j":0.1},
{"st":"JWS_Anacapa_Gate_05","dt":"2026-01-25","id":"2024-21","j":-0.35},
{"st":"JWS_Anacapa_Gate_05","dt":"2026-01-26","id":"2024-21","j":0.3},
{"st":"JWS_Anacapa_Gate_05","dt":"2026-01-28","id":"2024-21","j":0},
{"st":"JWS_Anacapa_Gate_05","dt":"2026-01-29","id":"2024-21","j":-0.25},
{"st":"JWS_Anacapa_Gate_05","dt":"2026-01-31","id":"2024-21","j":0.2},
{"st":"JWS_Anacapa_Gate_05","dt":"2026-02-02","id":"2024-21","j":-0.05},
{"st":"JWS_Anacapa_Gate_05","dt":"2026-02-03","id":"2024-21","j":0.35},
{"st":"JWS_Anacapa_Gate_05","dt":"2026-02-05","id":"2024-21","j":-0.3},
{"st":"JWS_Anacapa_Gate_05","dt":"2026-02-06","id":"2024-21","j":0.1},
{"st":"JWS_Anacapa_Gate_05","dt":"2026-02-13","id":"2024-21","j":-0.3},
{"st":"JWS_Anacapa_Gate_05","dt":"2026-02-14","id":"2024-21","j":0},
{"st":"JWS_Anacapa_Gate_05","dt":"2026-02-15","id":"2024-21","j":0.3},
{"st":"JWS_Anacapa_Gate_05","dt":"2026-02-17","id":"2024-21","j":-0.15},
{"st":"JWS_Anacapa_Gate_05","dt":"2026-02-18","id":"2024-21","j":0.2},
{"st":"JWS_Anacapa_Gate_05","dt":"2026-02-20","id":"2024-21","j":-0.35},
{"st":"JWS_Anacapa_Gate_05","dt":"2026-02-21","id":"2024-21","j":0.05},
{"st":"JWS_Anacapa_Gate_05","dt":"2026-02-23","id":"2024-21","j":0.3},
{"st":"JWS_Anacapa_Gate_05","dt":"2026-02-24","id":"2024-21","j":-0.1},
{"st":"JWS_Anacapa_Gate_05","dt":"2025-12-04","id":"2024-21","j":-0.05},
{"st":"JWS_Anacapa_Gate_05","dt":"2025-12-06","id":"2025-15","j":0.35},
{"st":"JWS_Anacapa_Gate_05","dt":"2025-12-10","id":"2025-17","j":-0.2},
{"st":"JWS_Anacapa_Gate_05","dt":"2025-12-13","id":"2024-21","j":0.15},
{"st":"JWS_Anacapa_Gate_05","dt":"2025-12-16","id":"2025-15","j":-0.15},
{"st":"JWS_Anacapa_Gate_05","dt":"2025-12-19","id":"2025-17","j":0.35},
{"st":"JWS_Anacapa_Gate_05","dt":"2025-12-21","id":"2024-21","j":-0.1},
{"st":"JWS_Anacapa_Gate_05","dt":"2025-12-23","id":"2025-15","j":0},
{"st":"JWS_Anacapa_Gate_05","dt":"2025-12-26","id":"2024-21","j":-0.25},
{"st":"JWS_Anacapa_Gate_05","dt":"2025-12-29","id":"2025-17","j":0.2},
{"st":"JWS_Anacapa_Gate_05","dt":"2025-12-31","id":"2024-21","j":-0.3},
{"st":"JWS_Anacapa_Gate_05","dt":"2026-01-02","id":"2024-21","j":0.15},
{"st":"JWS_Anacapa_Gate_05","dt":"2026-01-04","id":"2024-21","j":-0.25},
{"st":"JWS_Anacapa_Gate_05","dt":"2026-01-06","id":"2024-21","j":0.1},
{"st":"JWS_Anacapa_Gate_05","dt":"2026-01-08","id":"2024-21","j":-0.05},
{"st":"JWS_Anacapa_Gate_05","dt":"2026-01-11","id":"2024-21","j":0.25},
{"st":"JWS_Anacapa_Gate_05","dt":"2026-01-13","id":"2024-21","j":-0.3},
{"st":"JWS_Anacapa_Gate_05","dt":"2026-01-16","id":"2024-21","j":-0.15},
{"st":"JWS_Anacapa_Gate_05","dt":"2026-01-19","id":"2024-21","j":0.1},
{"st":"JWS_Anacapa_Gate_05","dt":"2026-01-22","id":"2024-21","j":0.3},
{"st":"JWS_Anacapa_Gate_05","dt":"2026-01-24","id":"2024-21","j":-0.1},
{"st":"JWS_Anacapa_Gate_05","dt":"2026-01-27","id":"2024-21","j":0.15},
{"st":"JWS_Anacapa_Gate_05","dt":"2026-01-30","id":"2024-21","j":-0.1},
{"st":"JWS_Anacapa_Gate_05","dt":"2026-02-01","id":"2024-21","j":0.1},
{"st":"JWS_Anacapa_Gate_05","dt":"2026-02-04","id":"2024-21","j":-0.15},
{"st":"JWS_Anacapa_Gate_05","dt":"2026-02-07","id":"2024-21","j":0.25},
{"st":"JWS_Anacapa_Gate_05","dt":"2026-02-14","id":"2024-21","j":-0.25},
{"st":"JWS_Anacapa_Gate_05","dt":"2026-02-16","id":"2024-21","j":0.15},
{"st":"JWS_Anacapa_Gate_05","dt":"2026-02-19","id":"2024-21","j":-0.1},
{"st":"JWS_Anacapa_Gate_05","dt":"2026-02-22","id":"2024-21","j":-0.25},
{"st":"JWS_Anacapa_Gate_05","dt":"2026-02-24","id":"2024-21","j":0.25},

{"st":"JWS_Anacapa_Gate_06","dt":"2025-08-24","id":"2025-10","j":-0.35},
{"st":"JWS_Anacapa_Gate_06","dt":"2025-08-24","id":"2025-10","j":-0.1},
{"st":"JWS_Anacapa_Gate_06","dt":"2025-08-24","id":"2025-10","j":0.15},
{"st":"JWS_Anacapa_Gate_06","dt":"2025-08-24","id":"2025-10","j":0.37},
{"st":"JWS_Anacapa_Gate_06","dt":"2025-09-06","id":"2025-08","j":0},
{"st":"JWS_Anacapa_Gate_06","dt":"2025-09-06","id":"2025-08","j":0.3},
{"st":"JWS_Anacapa_Gate_06","dt":"2025-10-07","id":"2024-21","j":0},
{"st":"JWS_Anacapa_Gate_06","dt":"2025-10-24","id":"2024-21","j":-0.38},
{"st":"JWS_Anacapa_Gate_06","dt":"2025-11-01","id":"2025-10","j":-0.3},
{"st":"JWS_Anacapa_Gate_06","dt":"2025-11-01","id":"2025-10","j":0},
{"st":"JWS_Anacapa_Gate_06","dt":"2025-11-01","id":"2025-10","j":0.3},
{"st":"JWS_Anacapa_Gate_06","dt":"2025-11-13","id":"2025-28","j":-0.35},
{"st":"JWS_Anacapa_Gate_06","dt":"2025-11-13","id":"2025-28","j":-0.1},
{"st":"JWS_Anacapa_Gate_06","dt":"2025-11-13","id":"2025-28","j":0.15},
{"st":"JWS_Anacapa_Gate_06","dt":"2025-11-13","id":"2025-28","j":0.37},
{"st":"JWS_Anacapa_Gate_06","dt":"2025-11-27","id":"2024-21","j":-0.2},
{"st":"JWS_Anacapa_Gate_06","dt":"2025-11-27","id":"2024-21","j":0.2},
{"st":"JWS_Anacapa_Gate_06","dt":"2025-12-03","id":"2024-21","j":-0.3},
{"st":"JWS_Anacapa_Gate_06","dt":"2025-12-03","id":"2024-21","j":0.1},
{"st":"JWS_Anacapa_Gate_06","dt":"2025-12-03","id":"2024-21","j":0.35},
{"st":"JWS_Anacapa_Gate_06","dt":"2025-12-08","id":"2025-15","j":-0.2},
{"st":"JWS_Anacapa_Gate_06","dt":"2025-12-10","id":"2024-21","j":0.2},
{"st":"JWS_Anacapa_Gate_06","dt":"2025-12-12","id":"2025-17","j":-0.35},
{"st":"JWS_Anacapa_Gate_06","dt":"2025-12-13","id":"2025-15","j":0.05},
{"st":"JWS_Anacapa_Gate_06","dt":"2025-12-15","id":"2025-08","j":0.3},
{"st":"JWS_Anacapa_Gate_06","dt":"2025-12-17","id":"2025-15","j":-0.1},
{"st":"JWS_Anacapa_Gate_06","dt":"2025-12-19","id":"2024-21","j":0.2},
{"st":"JWS_Anacapa_Gate_06","dt":"2025-12-21","id":"2025-15","j":-0.3},
{"st":"JWS_Anacapa_Gate_06","dt":"2025-12-23","id":"2024-21","j":0.05},
{"st":"JWS_Anacapa_Gate_06","dt":"2025-12-25","id":"2025-17","j":0.3},
{"st":"JWS_Anacapa_Gate_06","dt":"2025-12-27","id":"2024-21","j":-0.2},
{"st":"JWS_Anacapa_Gate_06","dt":"2025-12-29","id":"2025-15","j":0.15},
{"st":"JWS_Anacapa_Gate_06","dt":"2025-12-31","id":"2024-21","j":-0.35},
{"st":"JWS_Anacapa_Gate_06","dt":"2026-01-02","id":"2024-21","j":0.1},
{"st":"JWS_Anacapa_Gate_06","dt":"2026-01-04","id":"2024-21","j":-0.15},
{"st":"JWS_Anacapa_Gate_06","dt":"2026-01-06","id":"2024-21","j":0.3},
{"st":"JWS_Anacapa_Gate_06","dt":"2026-01-07","id":"2024-21","j":-0.35},
{"st":"JWS_Anacapa_Gate_06","dt":"2026-01-09","id":"2024-21","j":0.05},
{"st":"JWS_Anacapa_Gate_06","dt":"2026-01-10","id":"2024-21","j":0.25},
{"st":"JWS_Anacapa_Gate_06","dt":"2026-01-12","id":"2024-21","j":-0.2},
{"st":"JWS_Anacapa_Gate_06","dt":"2026-01-14","id":"2024-21","j":0.1},
{"st":"JWS_Anacapa_Gate_06","dt":"2026-01-15","id":"2024-21","j":-0.3},
{"st":"JWS_Anacapa_Gate_06","dt":"2026-01-17","id":"2024-21","j":0.35},
{"st":"JWS_Anacapa_Gate_06","dt":"2026-01-18","id":"2024-21","j":0},
{"st":"JWS_Anacapa_Gate_06","dt":"2026-01-22","id":"2024-21","j":-0.2},
{"st":"JWS_Anacapa_Gate_06","dt":"2026-01-24","id":"2024-21","j":0.2},
{"st":"JWS_Anacapa_Gate_06","dt":"2026-01-25","id":"2024-21","j":-0.35},
{"st":"JWS_Anacapa_Gate_06","dt":"2026-01-27","id":"2024-21","j":0.05},
{"st":"JWS_Anacapa_Gate_06","dt":"2026-01-29","id":"2024-21","j":0.3},
{"st":"JWS_Anacapa_Gate_06","dt":"2026-01-30","id":"2024-21","j":-0.15},
{"st":"JWS_Anacapa_Gate_06","dt":"2026-02-01","id":"2024-21","j":0.2},
{"st":"JWS_Anacapa_Gate_06","dt":"2026-02-02","id":"2024-21","j":-0.3},
{"st":"JWS_Anacapa_Gate_06","dt":"2026-02-04","id":"2024-21","j":0},
{"st":"JWS_Anacapa_Gate_06","dt":"2026-02-06","id":"2024-21","j":0.3},
{"st":"JWS_Anacapa_Gate_06","dt":"2026-02-13","id":"2024-21","j":-0.2},
{"st":"JWS_Anacapa_Gate_06","dt":"2026-02-14","id":"2024-21","j":0.2},
{"st":"JWS_Anacapa_Gate_06","dt":"2026-02-16","id":"2024-21","j":-0.35},
{"st":"JWS_Anacapa_Gate_06","dt":"2026-02-17","id":"2024-21","j":0.05},
{"st":"JWS_Anacapa_Gate_06","dt":"2026-02-18","id":"2024-21","j":0.35},
{"st":"JWS_Anacapa_Gate_06","dt":"2026-02-20","id":"2024-21","j":-0.1},
{"st":"JWS_Anacapa_Gate_06","dt":"2026-02-21","id":"2024-21","j":0.2},
{"st":"JWS_Anacapa_Gate_06","dt":"2026-02-23","id":"2024-21","j":-0.3},
{"st":"JWS_Anacapa_Gate_06","dt":"2026-02-24","id":"2024-21","j":0.1},
{"st":"JWS_Anacapa_Gate_06","dt":"2025-12-05","id":"2024-21","j":0},
{"st":"JWS_Anacapa_Gate_06","dt":"2025-12-09","id":"2025-17","j":-0.05},
{"st":"JWS_Anacapa_Gate_06","dt":"2025-12-11","id":"2024-21","j":0.35},
{"st":"JWS_Anacapa_Gate_06","dt":"2025-12-14","id":"2025-15","j":-0.25},
{"st":"JWS_Anacapa_Gate_06","dt":"2025-12-16","id":"2024-21","j":0.15},
{"st":"JWS_Anacapa_Gate_06","dt":"2025-12-18","id":"2025-17","j":-0.3},
{"st":"JWS_Anacapa_Gate_06","dt":"2025-12-20","id":"2024-21","j":0},
{"st":"JWS_Anacapa_Gate_06","dt":"2025-12-22","id":"2025-15","j":0.35},
{"st":"JWS_Anacapa_Gate_06","dt":"2025-12-24","id":"2024-21","j":-0.15},
{"st":"JWS_Anacapa_Gate_06","dt":"2025-12-26","id":"2025-15","j":0.1},
{"st":"JWS_Anacapa_Gate_06","dt":"2025-12-28","id":"2024-21","j":0.35},
{"st":"JWS_Anacapa_Gate_06","dt":"2025-12-30","id":"2024-21","j":-0.05},
{"st":"JWS_Anacapa_Gate_06","dt":"2026-01-01","id":"2024-21","j":0.25},
{"st":"JWS_Anacapa_Gate_06","dt":"2026-01-03","id":"2024-21","j":-0.3},
{"st":"JWS_Anacapa_Gate_06","dt":"2026-01-05","id":"2024-21","j":0.05},
{"st":"JWS_Anacapa_Gate_06","dt":"2026-01-08","id":"2024-21","j":-0.1},
{"st":"JWS_Anacapa_Gate_06","dt":"2026-01-11","id":"2024-21","j":0.3},
{"st":"JWS_Anacapa_Gate_06","dt":"2026-01-13","id":"2024-21","j":-0.05},
{"st":"JWS_Anacapa_Gate_06","dt":"2026-01-16","id":"2024-21","j":0.15},
{"st":"JWS_Anacapa_Gate_06","dt":"2026-01-19","id":"2024-21","j":-0.2},
{"st":"JWS_Anacapa_Gate_06","dt":"2026-01-21","id":"2024-21","j":0},
{"st":"JWS_Anacapa_Gate_06","dt":"2026-01-23","id":"2024-21","j":-0.1},
{"st":"JWS_Anacapa_Gate_06","dt":"2026-01-26","id":"2024-21","j":0.25},
{"st":"JWS_Anacapa_Gate_06","dt":"2026-01-28","id":"2024-21","j":-0.25},
{"st":"JWS_Anacapa_Gate_06","dt":"2026-01-31","id":"2024-21","j":0},
{"st":"JWS_Anacapa_Gate_06","dt":"2026-02-03","id":"2024-21","j":0.15},
{"st":"JWS_Anacapa_Gate_06","dt":"2026-02-05","id":"2024-21","j":-0.15},
{"st":"JWS_Anacapa_Gate_06","dt":"2026-02-15","id":"2024-21","j":0},
{"st":"JWS_Anacapa_Gate_06","dt":"2026-02-19","id":"2024-21","j":-0.3},
{"st":"JWS_Anacapa_Gate_06","dt":"2026-02-22","id":"2024-21","j":0.35},
{"st":"JWS_Anacapa_Gate_06","dt":"2026-02-25","id":"2024-21","j":-0.1},

{"st":"JWS_Anacapa_Gate_07","dt":"2025-09-15","id":"2023-21","j":-0.35},
{"st":"JWS_Anacapa_Gate_07","dt":"2025-11-01","id":"2025-10","j":-0.3},
{"st":"JWS_Anacapa_Gate_07","dt":"2025-11-01","id":"2025-10","j":0},
{"st":"JWS_Anacapa_Gate_07","dt":"2025-11-01","id":"2025-10","j":0.3},
{"st":"JWS_Anacapa_Gate_07","dt":"2025-11-02","id":"2025-21","j":0},
{"st":"JWS_Anacapa_Gate_07","dt":"2025-11-26","id":"2024-21","j":-0.15},
{"st":"JWS_Anacapa_Gate_07","dt":"2025-12-03","id":"2024-21","j":0.2},
{"st":"JWS_Anacapa_Gate_07","dt":"2025-12-19","id":"2024-21","j":0.15},
{"st":"JWS_Anacapa_Gate_07","dt":"2026-01-02","id":"2025-15","j":-0.3},
{"st":"JWS_Anacapa_Gate_07","dt":"2026-01-03","id":"2025-10","j":0.05},
{"st":"JWS_Anacapa_Gate_07","dt":"2026-01-04","id":"2025-15","j":0.3},
{"st":"JWS_Anacapa_Gate_07","dt":"2026-01-06","id":"2025-17","j":-0.15},
{"st":"JWS_Anacapa_Gate_07","dt":"2026-01-07","id":"2025-10","j":0.2},
{"st":"JWS_Anacapa_Gate_07","dt":"2026-01-08","id":"2025-15","j":-0.35},
{"st":"JWS_Anacapa_Gate_07","dt":"2026-01-09","id":"2025-10","j":0},
{"st":"JWS_Anacapa_Gate_07","dt":"2026-01-10","id":"2025-15","j":0.3},
{"st":"JWS_Anacapa_Gate_07","dt":"2026-01-11","id":"2025-17","j":-0.2},
{"st":"JWS_Anacapa_Gate_07","dt":"2026-01-12","id":"2025-10","j":0.1},
{"st":"JWS_Anacapa_Gate_07","dt":"2026-01-16","id":"2025-15","j":0.2},
{"st":"JWS_Anacapa_Gate_07","dt":"2026-02-01","id":"2024-21","j":0},
{"st":"JWS_Anacapa_Gate_07","dt":"2026-02-13","id":"2024-21","j":-0.35},
{"st":"JWS_Anacapa_Gate_07","dt":"2026-02-14","id":"2024-21","j":-0.1},
{"st":"JWS_Anacapa_Gate_07","dt":"2026-02-15","id":"2024-21","j":0.15},
{"st":"JWS_Anacapa_Gate_07","dt":"2026-02-17","id":"2024-21","j":0.35},
{"st":"JWS_Anacapa_Gate_07","dt":"2026-02-18","id":"2024-21","j":-0.25},
{"st":"JWS_Anacapa_Gate_07","dt":"2026-02-19","id":"2024-21","j":0.05},
{"st":"JWS_Anacapa_Gate_07","dt":"2026-02-20","id":"2024-21","j":0.3},
{"st":"JWS_Anacapa_Gate_07","dt":"2026-01-03","id":"2025-15","j":-0.15},
{"st":"JWS_Anacapa_Gate_07","dt":"2026-01-05","id":"2025-10","j":0.1},
{"st":"JWS_Anacapa_Gate_07","dt":"2026-01-08","id":"2025-17","j":0.35},
{"st":"JWS_Anacapa_Gate_07","dt":"2026-01-10","id":"2025-10","j":-0.1},
{"st":"JWS_Anacapa_Gate_07","dt":"2026-02-16","id":"2024-21","j":-0.1},
{"st":"JWS_Anacapa_Gate_07","dt":"2026-02-19","id":"2024-21","j":-0.35},

{"st":"JWS_Anacapa_Gate_08","dt":"2025-08-24","id":"2022-84","j":-0.05},
{"st":"JWS_Anacapa_Gate_08","dt":"2025-08-24","id":"2022-84","j":0.2},
{"st":"JWS_Anacapa_Gate_08","dt":"2025-09-15","id":"2023-21","j":0.05},
{"st":"JWS_Anacapa_Gate_08","dt":"2025-10-22","id":"2024-21","j":0},
{"st":"JWS_Anacapa_Gate_08","dt":"2025-10-22","id":"2024-21","j":0.2},
{"st":"JWS_Anacapa_Gate_08","dt":"2025-11-01","id":"2025-10","j":-0.3},
{"st":"JWS_Anacapa_Gate_08","dt":"2025-11-01","id":"2025-10","j":0},
{"st":"JWS_Anacapa_Gate_08","dt":"2025-11-01","id":"2025-10","j":0.3},
{"st":"JWS_Anacapa_Gate_08","dt":"2025-11-02","id":"2025-21","j":0.2},
{"st":"JWS_Anacapa_Gate_08","dt":"2026-01-05","id":"2025-17","j":0.2},
{"st":"JWS_Anacapa_Gate_08","dt":"2026-01-12","id":"2024-21","j":-0.2},
{"st":"JWS_Anacapa_Gate_08","dt":"2026-01-12","id":"2024-21","j":0.1},
{"st":"JWS_Anacapa_Gate_08","dt":"2026-01-26","id":"2025-22","j":-0.3},
{"st":"JWS_Anacapa_Gate_08","dt":"2026-01-26","id":"2025-22","j":-0.1},
{"st":"JWS_Anacapa_Gate_08","dt":"2026-01-26","id":"2025-22","j":0.1},
{"st":"JWS_Anacapa_Gate_08","dt":"2026-02-18","id":"2024-21","j":-0.3},
{"st":"JWS_Anacapa_Gate_08","dt":"2026-02-18","id":"2024-21","j":-0.1},
{"st":"JWS_Anacapa_Gate_08","dt":"2026-02-18","id":"2024-21","j":0.1},
{"st":"JWS_Anacapa_Gate_08","dt":"2026-02-18","id":"2024-21","j":0.35},

{"st":"JWS_Anacapa_Gate_09","dt":"2025-08-24","id":"2022-84","j":0},
{"st":"JWS_Anacapa_Gate_09","dt":"2025-08-24","id":"2022-84","j":0.1},
{"st":"JWS_Anacapa_Gate_09","dt":"2025-09-26","id":"2020-27","j":-0.3},
{"st":"JWS_Anacapa_Gate_09","dt":"2025-10-05","id":"2020-27","j":0},
{"st":"JWS_Anacapa_Gate_09","dt":"2025-10-06","id":"2020-27","j":0.1},
{"st":"JWS_Anacapa_Gate_09","dt":"2025-10-08","id":"2020-27","j":0.05},
{"st":"JWS_Anacapa_Gate_09","dt":"2025-10-10","id":"2020-27","j":0.15},
{"st":"JWS_Anacapa_Gate_09","dt":"2025-10-14","id":"2020-27","j":-0.35},
{"st":"JWS_Anacapa_Gate_09","dt":"2025-10-21","id":"2020-27","j":0.1},
{"st":"JWS_Anacapa_Gate_09","dt":"2025-10-22","id":"2024-21","j":-0.2},
{"st":"JWS_Anacapa_Gate_09","dt":"2025-10-23","id":"2020-27","j":0.3},
{"st":"JWS_Anacapa_Gate_09","dt":"2025-10-30","id":"2020-27","j":-0.1},
{"st":"JWS_Anacapa_Gate_09","dt":"2025-10-30","id":"2020-27","j":0.25},
{"st":"JWS_Anacapa_Gate_09","dt":"2025-11-01","id":"2025-21","j":0.2},
{"st":"JWS_Anacapa_Gate_09","dt":"2025-11-13","id":"2020-27","j":-0.2},
{"st":"JWS_Anacapa_Gate_09","dt":"2025-11-13","id":"2020-27","j":0.25},
{"st":"JWS_Anacapa_Gate_09","dt":"2025-11-18","id":"2020-27","j":-0.35},
{"st":"JWS_Anacapa_Gate_09","dt":"2025-11-18","id":"2020-27","j":-0.05},
{"st":"JWS_Anacapa_Gate_09","dt":"2025-11-18","id":"2020-27","j":0.3},
{"st":"JWS_Anacapa_Gate_09","dt":"2025-11-24","id":"2020-27","j":0.35},
{"st":"JWS_Anacapa_Gate_09","dt":"2025-12-05","id":"2020-27","j":0.2},
{"st":"JWS_Anacapa_Gate_09","dt":"2025-12-07","id":"2020-27","j":-0.1},
{"st":"JWS_Anacapa_Gate_09","dt":"2025-12-09","id":"2020-27","j":0.25},
{"st":"JWS_Anacapa_Gate_09","dt":"2025-12-11","id":"2020-27","j":-0.3},
{"st":"JWS_Anacapa_Gate_09","dt":"2025-12-12","id":"2020-27","j":0},
{"st":"JWS_Anacapa_Gate_09","dt":"2025-12-13","id":"2020-27","j":0.3},
{"st":"JWS_Anacapa_Gate_09","dt":"2025-12-31","id":"2020-27","j":-0.3},
{"st":"JWS_Anacapa_Gate_09","dt":"2026-01-01","id":"2020-27","j":0},
{"st":"JWS_Anacapa_Gate_09","dt":"2026-01-01","id":"2020-27","j":0.3},
{"st":"JWS_Anacapa_Gate_09","dt":"2026-01-03","id":"2020-27","j":-0.15},
{"st":"JWS_Anacapa_Gate_09","dt":"2026-01-03","id":"2020-27","j":0.2},
{"st":"JWS_Anacapa_Gate_09","dt":"2026-01-04","id":"2020-27","j":-0.35},
{"st":"JWS_Anacapa_Gate_09","dt":"2026-01-06","id":"2020-27","j":0.05},
{"st":"JWS_Anacapa_Gate_09","dt":"2026-01-06","id":"2020-27","j":0.3},
{"st":"JWS_Anacapa_Gate_09","dt":"2026-01-07","id":"2020-27","j":-0.2},
{"st":"JWS_Anacapa_Gate_09","dt":"2026-01-08","id":"2020-27","j":0.15},
{"st":"JWS_Anacapa_Gate_09","dt":"2026-01-10","id":"2020-27","j":0.2},
{"st":"JWS_Anacapa_Gate_09","dt":"2026-01-12","id":"2020-27","j":0.35},
{"st":"JWS_Anacapa_Gate_09","dt":"2026-01-13","id":"2020-27","j":0.1},
{"st":"JWS_Anacapa_Gate_09","dt":"2026-01-15","id":"2020-27","j":0.25},
{"st":"JWS_Anacapa_Gate_09","dt":"2026-01-17","id":"2020-27","j":-0.1},
{"st":"JWS_Anacapa_Gate_09","dt":"2026-01-18","id":"2020-27","j":0.2},
{"st":"JWS_Anacapa_Gate_09","dt":"2026-01-20","id":"2020-27","j":0.3},
{"st":"JWS_Anacapa_Gate_09","dt":"2026-02-02","id":"2020-27","j":-0.1},
{"st":"JWS_Anacapa_Gate_09","dt":"2026-02-03","id":"2020-27","j":-0.05},
{"st":"JWS_Anacapa_Gate_09","dt":"2026-02-10","id":"2020-27","j":-0.3},
{"st":"JWS_Anacapa_Gate_09","dt":"2026-02-10","id":"2020-27","j":0.3},
{"st":"JWS_Anacapa_Gate_09","dt":"2026-02-12","id":"2020-27","j":0.1},
{"st":"JWS_Anacapa_Gate_09","dt":"2026-02-14","id":"2020-27","j":-0.1},
{"st":"JWS_Anacapa_Gate_09","dt":"2026-02-14","id":"2020-27","j":0.35},
{"st":"JWS_Anacapa_Gate_09","dt":"2026-02-19","id":"2020-27","j":-0.1},
{"st":"JWS_Anacapa_Gate_09","dt":"2026-03-01","id":"2020-27","j":0.2},
{"st":"JWS_Anacapa_Gate_09","dt":"2026-03-02","id":"2020-27","j":-0.35},
{"st":"JWS_Anacapa_Gate_09","dt":"2026-03-03","id":"2020-27","j":0.3},
{"st":"JWS_Anacapa_Gate_09","dt":"2026-03-11","id":"2020-27","j":-0.1},
{"st":"JWS_Anacapa_Gate_09","dt":"2026-03-11","id":"2020-27","j":0.25},
{"st":"JWS_Anacapa_Gate_09","dt":"2026-03-18","id":"2020-27","j":-0.05},
{"st":"JWS_Anacapa_Gate_09","dt":"2026-03-18","id":"2020-27","j":0.35},
{"st":"JWS_Anacapa_Gate_09","dt":"2026-03-23","id":"2020-27","j":-0.25},
{"st":"JWS_Anacapa_Gate_09","dt":"2026-03-23","id":"2020-27","j":0.4},

{"st":"JWS_Anacapa_Gate_10","dt":"2025-11-30","id":"2024-16","j":-0.25},
{"st":"JWS_Anacapa_Gate_10","dt":"2025-11-30","id":"2024-16","j":0.05},
{"st":"JWS_Anacapa_Gate_11","dt":"2025-11-15","id":"2025-27","j":-0.35},
{"st":"JWS_Anacapa_Gate_11","dt":"2025-11-15","id":"2025-27","j":0.35},
{"st":"JWS_Anacapa_Gate_11","dt":"2025-11-30","id":"2024-16","j":0.1},
{"st":"JWS_Anacapa_Gate_12","dt":"2025-10-07","id":"2022-84","j":-0.3},
{"st":"JWS_Anacapa_Gate_12","dt":"2025-10-07","id":"2022-84","j":-0.1},
{"st":"JWS_Anacapa_Gate_12","dt":"2025-10-07","id":"2022-84","j":0.15},
{"st":"JWS_Anacapa_Gate_12","dt":"2025-10-07","id":"2022-84","j":0.35},
{"st":"JWS_Anacapa_Gate_12","dt":"2025-11-30","id":"2024-16","j":-0.1},
{"st":"JWS_Anacapa_Gate_12","dt":"2025-11-30","id":"2024-16","j":0.35},
{"st":"JWS_Anacapa_Gate_12","dt":"2025-12-04","id":"2024-16","j":-0.1},
{"st":"JWS_Anacapa_Gate_13","dt":"2025-12-04","id":"2024-16","j":0.2},
{"st":"JWS_Anacapa_Gate_13","dt":"2025-12-04","id":"2024-16","j":0.4},
{"st":"JWS_Anacapa_Gate_15","dt":"2025-12-23","id":"2025-34","j":-0.45},
{"st":"JWS_Anacapa_Gate_15","dt":"2025-12-23","id":"2025-34","j":-0.3},
{"st":"JWS_Anacapa_Gate_15","dt":"2025-12-23","id":"2025-34","j":-0.15},
{"st":"JWS_Anacapa_Gate_15","dt":"2025-12-23","id":"2025-34","j":0},
{"st":"JWS_Anacapa_Gate_15","dt":"2025-12-23","id":"2025-34","j":0.15},
{"st":"JWS_Anacapa_Gate_15","dt":"2025-12-23","id":"2025-34","j":0.3},
{"st":"JWS_Anacapa_Gate_15","dt":"2025-12-23","id":"2025-34","j":0.45},
{"st":"JWS_Anacapa_Gate_16","dt":"2025-10-07","id":"2022-84","j":-0.15},
{"st":"JWS_Anacapa_Gate_16","dt":"2025-10-07","id":"2022-84","j":0.05},
{"st":"JWS_Anacapa_Gate_16","dt":"2025-10-07","id":"2022-84","j":0.25},
{"st":"JWS_Anacapa_Gate_16","dt":"2025-10-07","id":"2022-84","j":0.45},
{"st":"JWS_Anacapa_Gate_17","dt":"2025-11-30","id":"2024-16","j":-0.3},
{"st":"JWS_Anacapa_Gate_17","dt":"2025-11-30","id":"2024-16","j":0.1}
]},
"mark": {"type": "circle", "size": 60, "opacity": 1},
"encoding": {
"x": {"field": "dt", "type": "temporal",
 "scale": {"type": "utc", "nice": false, "domain": [{"year": 2025, "month": 8, "date": 20, "hours": 10, "utc": true}, {"year": 2026, "month": 3, "date": 31, "hours": 21, "utc": true}]},
 "axis": {"title": "DateTimePT", "format": "%Y %b %d", "labelAngle": -90, "labelFontSize": 15, "labelColor": "#4D4D4D", "labelPadding": 3, "labelOverlap": false, "labelFlush": false,
  "titleFontSize": 22.5, "titleFontWeight": "normal", "titleColor": "#000000", "titlePadding": 18,
  "tickColor": "#333333", "tickSize": 4, "domain": false, "grid": false,
  "values": [
   {"year": 2025, "month": 9, "date": 1, "utc": true},
   {"year": 2025, "month": 9, "date": 15, "utc": true},
   {"year": 2025, "month": 9, "date": 29, "utc": true},
   {"year": 2025, "month": 10, "date": 13, "utc": true},
   {"year": 2025, "month": 10, "date": 27, "utc": true},
   {"year": 2025, "month": 11, "date": 9, "hours": 23, "utc": true},
   {"year": 2025, "month": 11, "date": 23, "hours": 23, "utc": true},
   {"year": 2025, "month": 12, "date": 7, "hours": 23, "utc": true},
   {"year": 2025, "month": 12, "date": 21, "hours": 23, "utc": true},
   {"year": 2026, "month": 1, "date": 4, "hours": 23, "utc": true},
   {"year": 2026, "month": 1, "date": 18, "hours": 23, "utc": true},
   {"year": 2026, "month": 2, "date": 1, "hours": 23, "utc": true},
   {"year": 2026, "month": 2, "date": 15, "hours": 23, "utc": true},
   {"year": 2026, "month": 3, "date": 1, "hours": 23, "utc": true},
   {"year": 2026, "month": 3, "date": 16, "utc": true},
   {"year": 2026, "month": 3, "date": 30, "utc": true}
  ]}},
"y": {"field": "st", "type": "nominal",
 "scale": {"type": "band", "paddingInner": 0, "paddingOuter": 0, "domain": ["JWS_Anacapa_Gate_01","JWS_Anacapa_Gate_02","JWS_Anacapa_Gate_03","JWS_Anacapa_Gate_04","JWS_Anacapa_Gate_05","JWS_Anacapa_Gate_06","JWS_Anacapa_Gate_07","JWS_Anacapa_Gate_08","JWS_Anacapa_Gate_09","JWS_Anacapa_Gate_10","JWS_Anacapa_Gate_11","JWS_Anacapa_Gate_12","JWS_Anacapa_Gate_13","JWS_Anacapa_Gate_14","JWS_Anacapa_Gate_15","JWS_Anacapa_Gate_16","JWS_Anacapa_Gate_17"]},
 "axis": {"title": "Station", "labelFontSize": 19, "labelColor": "#4D4D4D", "labelPadding": 3, "labelLimit": 400,
  "titleFontSize": 21, "titleFontWeight": "normal", "titleColor": "#000000", "titleX": -242, "titleY": 205, "titleAngle": -90, "titleAlign": "center", "titleBaseline": "middle",
  "tickColor": "#333333", "tickSize": 4, "domain": false, "grid": false}},
"yOffset": {"field": "j", "type": "quantitative", "scale": {"domain": [-0.5, 0.5]}},
"color": {"field": "id", "type": "nominal",
 "scale": {"scheme": "viridis", "domain": ["2020-27","2020-48","2022-47","2022-84","2023-09","2023-21","2023-42","2024-16","2024-21","2025-08","2025-10","2025-15","2025-17","2025-18","2025-21","2025-22","2025-27","2025-28","2025-31","2025-32","2025-34"]},
 "legend": {"title": "Shark ID", "orient": "none", "legendX": 591, "legendY": 8, "columns": 2, "padding": 0,
  "symbolType": "circle", "symbolSize": 45, "symbolOffset": 9, "symbolStrokeWidth": 0, "labelOffset": 20, "columnPadding": 11, "rowPadding": 13,
  "titleFontSize": 22, "titleFontWeight": "normal", "titleColor": "#000000", "titlePadding": 16, "labelFontSize": 19, "labelColor": "#000000"}}
}},
{"data": {"values": [
{"st":"JWS_Anacapa_Gate_02"},{"st":"JWS_Anacapa_Gate_03"},{"st":"JWS_Anacapa_Gate_04"},{"st":"JWS_Anacapa_Gate_05"},
{"st":"JWS_Anacapa_Gate_06"},{"st":"JWS_Anacapa_Gate_07"},{"st":"JWS_Anacapa_Gate_08"},{"st":"JWS_Anacapa_Gate_09"},
{"st":"JWS_Anacapa_Gate_10"},{"st":"JWS_Anacapa_Gate_11"},{"st":"JWS_Anacapa_Gate_12"},{"st":"JWS_Anacapa_Gate_13"},
{"st":"JWS_Anacapa_Gate_14"},{"st":"JWS_Anacapa_Gate_15"},{"st":"JWS_Anacapa_Gate_16"},{"st":"JWS_Anacapa_Gate_17"}
]},
"mark": {"type": "rule", "color": "#1a1a1a", "strokeWidth": 1},
"encoding": {"y": {"field": "st", "type": "nominal", "bandPosition": 0}}}
]
}
